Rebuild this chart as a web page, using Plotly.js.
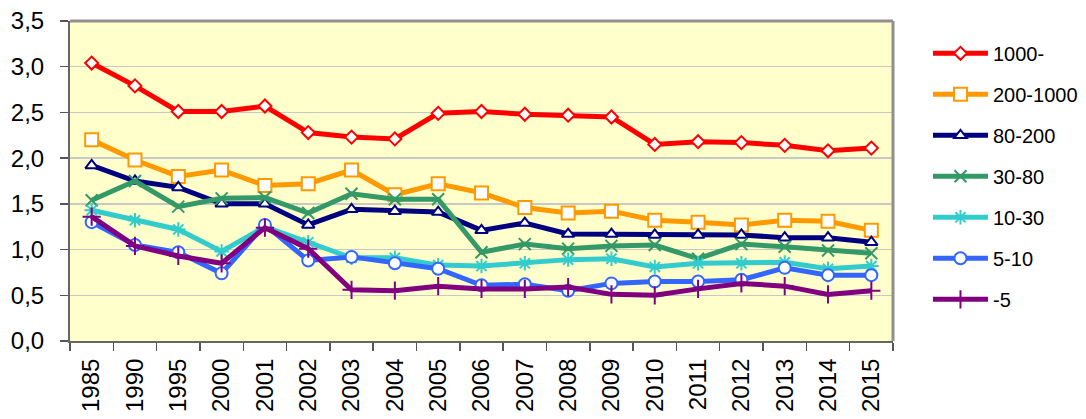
<!DOCTYPE html>
<html><head><meta charset="utf-8">
<script src="https://cdn.plot.ly/plotly-3.0.1.min.js"></script>
<style>html,body{margin:0;padding:0;background:#fff}#chart{width:1086px;height:419px}</style>
</head><body><div id="chart"></div>
<script>
const years = ["1985","1990","1995","2000","2001","2002","2003","2004","2005","2006","2007","2008","2009","2010","2011","2012","2013","2014","2015"];
const seriesNames = ["1000-","200-1000","80-200","30-80","10-30","5-10","-5"];
const v1000 = [3.04,2.79,2.51,2.51,2.57,2.28,2.23,2.21,2.49,2.51,2.48,2.47,2.45,2.15,2.18,2.17,2.14,2.08,2.11];
const v200_1000 = [2.20,1.98,1.80,1.87,1.70,1.72,1.87,1.60,1.72,1.62,1.46,1.40,1.42,1.32,1.30,1.27,1.32,1.31,1.21];
const v80_200 = [1.92,1.75,1.68,1.50,1.50,1.27,1.44,1.42,1.41,1.21,1.29,1.17,1.17,1.16,1.16,1.16,1.13,1.13,1.08];
const v30_80 = [1.54,1.75,1.47,1.56,1.57,1.40,1.61,1.55,1.55,0.97,1.06,1.01,1.04,1.05,0.90,1.06,1.03,0.99,0.96];
const v10_30 = [1.43,1.32,1.22,0.98,1.25,1.08,0.91,0.91,0.83,0.82,0.85,0.89,0.90,0.81,0.85,0.85,0.86,0.79,0.82];
const v5_10 = [1.30,1.05,0.97,0.74,1.27,0.88,0.92,0.85,0.79,0.61,0.62,0.55,0.63,0.65,0.65,0.67,0.80,0.72,0.72];
const vUnder5 = [1.36,1.04,0.93,0.85,1.24,1.01,0.56,0.55,0.60,0.57,0.57,0.59,0.51,0.50,0.57,0.63,0.60,0.51,0.55];

const values = [v1000, v200_1000, v80_200, v30_80, v10_30, v5_10, vUnder5];
const colors = ["#FF0000","#FF9900","#000080","#339966","#33CCCC","#3366FF","#800080"];
const symbols = ["diamond","square","triangle-up","x-thin-open","asterisk-open","circle","cross-thin-open"];
const sizes = [10,13,11,12,12,12,13];
const fills = ["#FFFFFF","#FFFFFF","#FFFFFF",null,null,"#FFFFFF",null];

const traces = values.map((v,i)=>({
  type:"scatter", mode:"lines+markers", x:years, y:v, name:seriesNames[i],
  legendgroup:"g"+i,
  line:{color:colors[i], width:5},
  marker:{symbol:symbols[i], size:sizes[i],
    color: fills[i] ? fills[i] : colors[i],
    line:{color:colors[i], width:2}}
}));

const font = "Liberation Sans, Arial, sans-serif";
const layout = {
  width:1086, height:419,
  margin:{l:70, r:193, t:21, b:78, autoexpand:false},
  paper_bgcolor:"#FFFFFF", plot_bgcolor:"#FFFFCC",
  separators:",.",
  font:{family:font, color:"#000000"},
  showlegend:true,
  legend:{x:1.0425, xanchor:"left", y:0.96, yanchor:"top", yref:"paper",
    font:{family:font, size:20, color:"#000"}, tracegroupgap:12, itemwidth:55,
    bgcolor:"rgba(0,0,0,0)"},
  xaxis:{type:"category", range:[-0.5,18.5], tickangle:-90, ticks:"outside", tickson:"boundaries",
    ticklen:8, tickwidth:1.5, tickcolor:"#555", showgrid:false, zeroline:false,
    showline:true, linecolor:"#666", linewidth:2, ticklabelstandoff:6,
    tickfont:{family:font, size:24, color:"#000"}},
  yaxis:{range:[0,3.5], dtick:0.5, tick0:0, tickformat:".1f", ticks:"outside", ticklen:8,
    tickwidth:1.5, tickcolor:"#555", showgrid:true, gridcolor:"#C8C8C8", gridwidth:1.5,
    zeroline:false, showline:true, linecolor:"#666", linewidth:2, ticklabelstandoff:11,
    tickfont:{family:font, size:24, color:"#000"}},
  shapes:[
    {type:"line", xref:"paper", yref:"paper", x0:0, x1:1, y0:1, y1:1, line:{color:"#909090", width:3}},
    {type:"line", xref:"paper", yref:"paper", x0:1, x1:1, y0:0, y1:1, line:{color:"#909090", width:3}}
  ]
};
Plotly.newPlot("chart", traces, layout, {displayModeBar:false, staticPlot:true});
</script></body></html>
